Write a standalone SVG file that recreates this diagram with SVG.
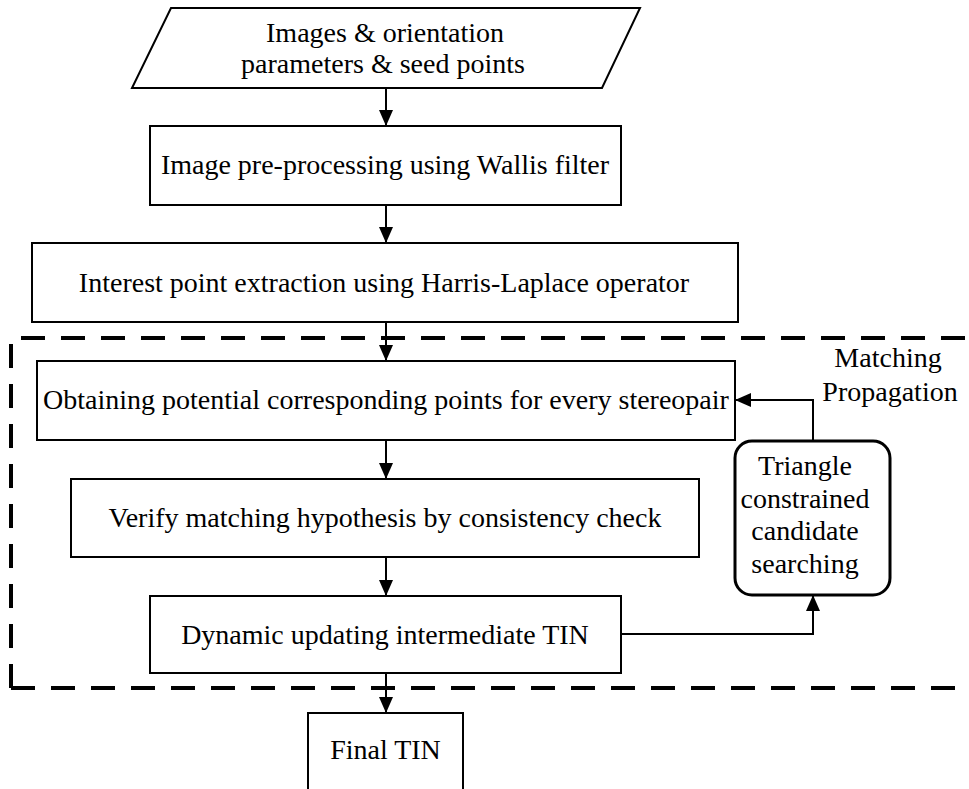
<svg xmlns="http://www.w3.org/2000/svg" width="969" height="789" viewBox="0 0 969 789">
<defs>
<marker id="ah" markerUnits="userSpaceOnUse" markerWidth="17" markerHeight="14" refX="16" refY="7" orient="auto">
<path d="M0,0 L16,7 L0,14 z" fill="#000"/>
</marker>
<style>
.box{fill:#fff;stroke:#000;stroke-width:2}
.rbox{fill:#fff;stroke:#000;stroke-width:3}
.t{font-size:28px;fill:#000;text-anchor:middle}
.c{fill:none;stroke:#000;stroke-width:2}
.dash{fill:none;stroke:#000;stroke-width:4;stroke-dasharray:24 16}
</style>
</defs>
<rect width="969" height="789" fill="#fff"/>

<g id="propagation-region">
<path class="dash" d="M11,688 L11,338 L975,338"/>
<path class="dash" d="M11,688 L975,688"/>
<text class="t" style="font-family:'Liberation Serif','Times New Roman',serif" x="888" y="367">Matching</text>
<text class="t" style="font-family:'Liberation Serif','Times New Roman',serif" x="890" y="401">Propagation</text>
</g>

<g id="connectors">
<path class="c" d="M386,88 L386,126" marker-end="url(#ah)"/>
<path class="c" d="M386,205 L386,243" marker-end="url(#ah)"/>
<path class="c" d="M386,322 L386,361" marker-end="url(#ah)"/>
<path class="c" d="M386,440 L386,479" marker-end="url(#ah)"/>
<path class="c" d="M386,557 L386,596" marker-end="url(#ah)"/>
<path class="c" d="M386,673 L386,713" marker-end="url(#ah)"/>
<path class="c" d="M621,634 L813,634 L813,595" marker-end="url(#ah)"/>
<path class="c" d="M813,441 L813,400 L735,400" marker-end="url(#ah)"/>
</g>

<g id="input">
<polygon class="box" points="171,8 640,8 602,88 132,88"/>
<text class="t" style="font-family:'Liberation Serif','Times New Roman',serif" x="385" y="42">Images &amp; orientation</text>
<text class="t" style="font-family:'Liberation Serif','Times New Roman',serif" x="383" y="73">parameters &amp; seed points</text>
</g>

<g id="preprocessing">
<rect class="box" x="150" y="126" width="471" height="79"/>
<text class="t" style="font-family:'Liberation Serif','Times New Roman',serif" x="385" y="174">Image pre-processing using Wallis filter</text>
</g>

<g id="interest-points">
<rect class="box" x="32" y="243" width="706" height="79"/>
<text class="t" style="font-family:'Liberation Serif','Times New Roman',serif" x="384" y="292">Interest point extraction using Harris-Laplace operator</text>
</g>

<g id="potential-points">
<rect class="box" x="37" y="361" width="698" height="79"/>
<text class="t" style="font-family:'Liberation Serif','Times New Roman',serif" x="386" y="409">Obtaining potential corresponding points for every stereopair</text>
</g>

<g id="verify">
<rect class="box" x="71" y="479" width="628" height="78"/>
<text class="t" style="font-family:'Liberation Serif','Times New Roman',serif" x="385" y="527">Verify matching hypothesis by consistency check</text>
</g>

<g id="dynamic-tin">
<rect class="box" x="150" y="596" width="471" height="77"/>
<text class="t" style="font-family:'Liberation Serif','Times New Roman',serif" x="385" y="644">Dynamic updating intermediate TIN</text>
</g>

<g id="triangle-search">
<rect class="rbox" x="735" y="441" width="155" height="154" rx="17" ry="17"/>
<text class="t" style="font-family:'Liberation Serif','Times New Roman',serif" x="805" y="475">Triangle</text>
<text class="t" style="font-family:'Liberation Serif','Times New Roman',serif" x="805" y="508">constrained</text>
<text class="t" style="font-family:'Liberation Serif','Times New Roman',serif" x="805" y="540">candidate</text>
<text class="t" style="font-family:'Liberation Serif','Times New Roman',serif" x="805" y="573">searching</text>
</g>

<g id="final-tin">
<rect class="box" x="308" y="713" width="155" height="90"/>
<text class="t" style="font-family:'Liberation Serif','Times New Roman',serif" x="385.5" y="759">Final TIN</text>
</g>
</svg>
